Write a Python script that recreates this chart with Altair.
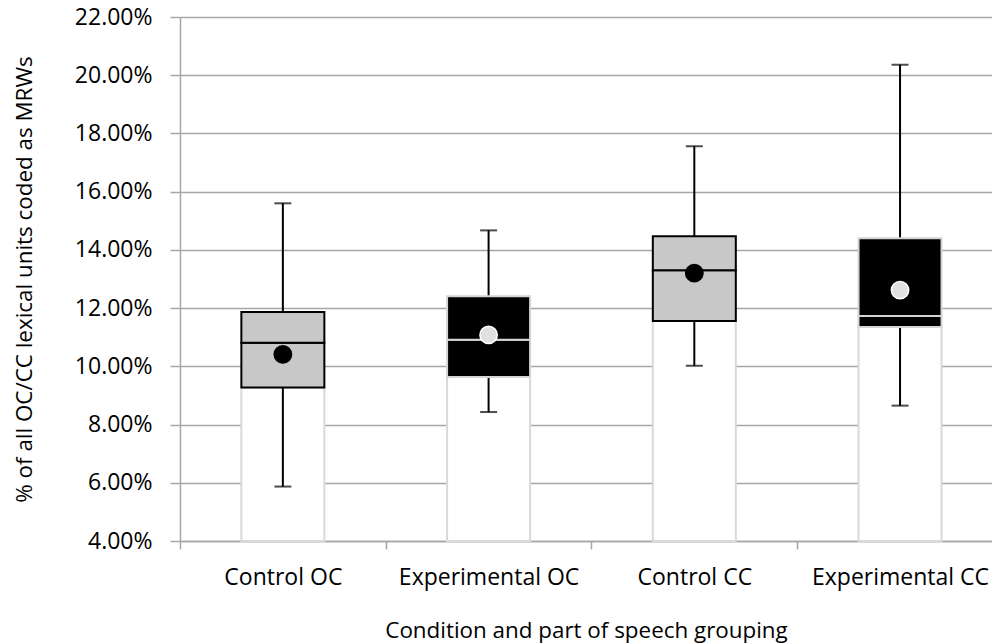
import altair as alt
import pandas as pd

# Summary statistics (as fractions) for each condition / part-of-speech grouping
groups = ["Control OC", "Experimental OC", "Control CC", "Experimental CC"]
box_style = ["light", "dark", "light", "dark"]
whisker_low = [0.0587, 0.0843, 0.1002, 0.0865]
quartile_1 = [0.0927, 0.0963, 0.1156, 0.1135]
median = [0.1081, 0.1091, 0.1330, 0.1173]
quartile_3 = [0.1187, 0.1241, 0.1447, 0.1440]
whisker_high = [0.1560, 0.1467, 0.1756, 0.2036]
mean = [0.1041, 0.1108, 0.1320, 0.1262]

y_ticks = [0.04, 0.06, 0.08, 0.10, 0.12, 0.14, 0.16, 0.18, 0.20, 0.22]
axis_floor = 0.04

df = pd.DataFrame({
    "group": groups,
    "slot": [i + 0.5 for i in range(len(groups))],
    "style": box_style,
    "lo": whisker_low,
    "q1": quartile_1,
    "med": median,
    "q3": quartile_3,
    "hi": whisker_high,
    "mean": mean,
})

FONT = "Open Sans"
GRID = "#a6a6a6"
BOX_W = 83

label_list = "[" + ",".join("'" + g + "'" for g in groups) + "]"
x_axis = alt.Axis(
    values=[0, 0.5, 1, 1.5, 2, 2.5, 3, 3.5],
    labelExpr=f"datum.value % 1 == 0 ? '' : {label_list}[floor(datum.value)]",
    tickOpacity={"condition": {"test": "datum.value % 1 == 0", "value": 1}, "value": 0},
    tickColor=GRID, tickSize=8, tickWidth=1.5,
    domainColor=GRID, domainWidth=1.5,
    labelFont=FONT, labelFontSize=23, labelColor="black", labelPadding=17,
    labelFlush=False, labelOverlap=False, labelBound=False, labelLimit=0,
    grid=False,
    title="Condition and part of speech grouping",
    titleFont=FONT, titleFontSize=22.4, titleFontWeight="normal", titleColor="black",
    titleY=96, titleBaseline="alphabetic",
)
x_enc = alt.X(
    "slot:Q",
    scale=alt.Scale(domain=[0, 3.947], nice=False, zero=False, padding=0),
    axis=x_axis,
)

y_axis = alt.Axis(
    values=y_ticks, format=".2%",
    tickColor=GRID, tickSize=10, tickWidth=1.5,
    domainColor=GRID, domainWidth=1.5,
    gridColor=GRID, gridWidth=1.5,
    labelFont=FONT, labelFontSize=23, labelColor="black", labelPadding=18,
    title="% of all OC/CC lexical units coded as MRWs",
    titleFont=FONT, titleFontSize=22.4, titleFontWeight="normal", titleColor="black",
    titleX=-156, titleY=262, titleAngle=-90, titleAlign="center", titleBaseline="middle",
)
y_scale = alt.Scale(domain=[0.04, 0.22], nice=False, zero=False, padding=0)

base = alt.Chart(df)
is_light = "datum.style == 'light'"

# white column from the axis floor up to the first quartile
floor_bars = base.mark_bar(size=BOX_W, fill="white", stroke="#d9d9d9", strokeWidth=2).encode(
    x=x_enc,
    y=alt.Y("q1:Q", scale=y_scale, axis=y_axis),
    y2=alt.datum(axis_floor),
)

whiskers = base.mark_rule(color="black", strokeWidth=2).encode(
    x="slot:Q", y="lo:Q", y2="hi:Q"
)

caps = base.transform_fold(["lo", "hi"], as_=["end", "val"]).mark_tick(
    orient="horizontal", size=17, thickness=2, color="black"
).encode(x="slot:Q", y="val:Q")

box_fill = alt.condition(is_light, alt.value("#c8c8c8"), alt.value("black"))
box_stroke = alt.condition(is_light, alt.value("black"), alt.value("#d4d4d4"))

lower_box = base.mark_bar(size=BOX_W, strokeWidth=2).encode(
    x="slot:Q", y="q1:Q", y2="med:Q", fill=box_fill, stroke=box_stroke
)
upper_box = base.mark_bar(size=BOX_W, strokeWidth=2).encode(
    x="slot:Q", y="med:Q", y2="q3:Q", fill=box_fill, stroke=box_stroke
)

mean_dots = base.mark_point(filled=True, size=300, strokeWidth=1.5, opacity=1).encode(
    x="slot:Q",
    y="mean:Q",
    fill=alt.condition(is_light, alt.value("black"), alt.value("#e0e0e0")),
    stroke=alt.condition(is_light, alt.value("black"), alt.value("white")),
)

chart = alt.layer(
    floor_bars, whiskers, lower_box, upper_box, caps, mean_dots
).properties(
    width=812,
    height=524,
    autosize=alt.AutoSizeParams(type="none"),
    padding={"left": 180, "top": 17, "right": 0, "bottom": 103},
    background="white",
).configure_view(stroke=None)

chart.save("out.html", embed_options={"renderer": "svg", "actions": False})
